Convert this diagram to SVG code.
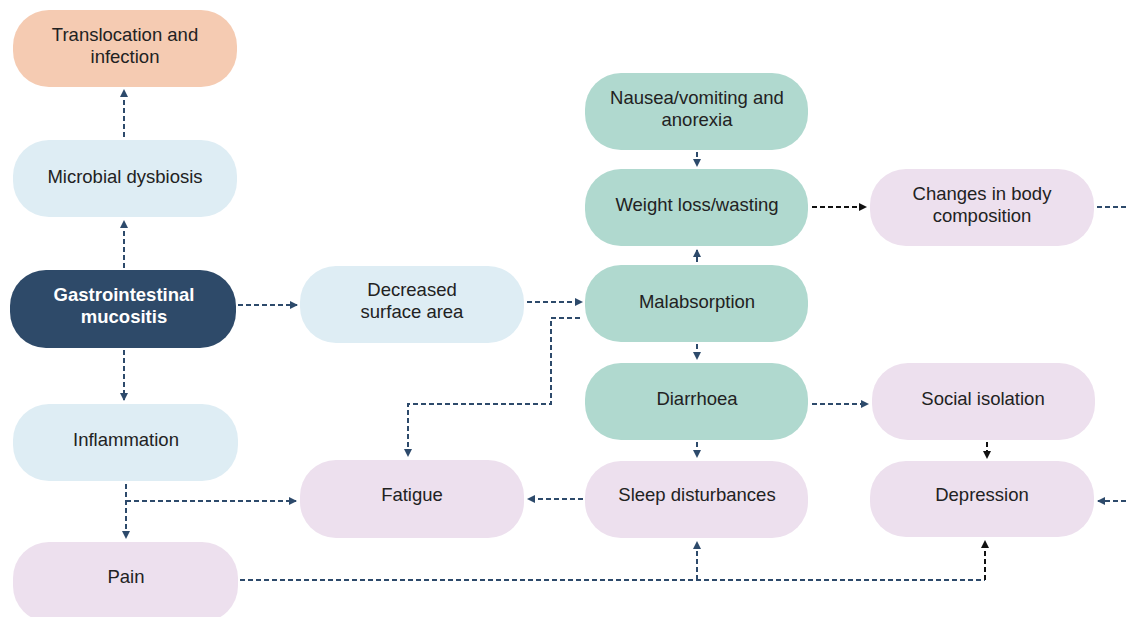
<svg xmlns="http://www.w3.org/2000/svg" width="1126" height="617" viewBox="0 0 1126 617">
<defs>
<marker id="ab" viewBox="0 0 8 8" markerWidth="8" markerHeight="8" refX="7" refY="4" orient="auto" markerUnits="userSpaceOnUse"><path d="M0,0 L8,4 L0,8 z" fill="#2d4a6b"/></marker>
<marker id="ak" viewBox="0 0 8 8" markerWidth="8" markerHeight="8" refX="7" refY="4" orient="auto" markerUnits="userSpaceOnUse"><path d="M0,0 L8,4 L0,8 z" fill="#111"/></marker>
</defs>
<style>
text{font-family:"Liberation Sans",Arial,sans-serif;font-size:18.5px;fill:#222;text-anchor:middle}
.w{fill:#fff;font-weight:bold}
.peach{fill:#f5cbb2}
.blue{fill:#deedf4}
.navy{fill:#2e4a69}
.teal{fill:#b0d9cf}
.pink{fill:#ede0ee}
.c{fill:none;stroke:#2d4a6b;stroke-width:2;stroke-dasharray:5 3}
.k{fill:none;stroke:#111;stroke-width:2;stroke-dasharray:5 3}
</style>
<rect width="1126" height="617" fill="#fff"/>
<g id="connectors">
<path class="c" d="M124 137 V90" marker-end="url(#ab)"/>
<path class="c" d="M124 268 V221" marker-end="url(#ab)"/>
<path class="c" d="M124 350 V400" marker-end="url(#ab)"/>
<path class="c" d="M238 305 H297" marker-end="url(#ab)"/>
<path class="c" d="M527 302 H582" marker-end="url(#ab)"/>
<path class="c" d="M580 318 H551 V404 H408 V456" marker-end="url(#ab)"/>
<path class="c" d="M697 262 V250" marker-end="url(#ab)"/>
<path class="c" d="M697 152 V166" marker-end="url(#ab)"/>
<path class="k" d="M812 207 H866" marker-end="url(#ak)"/>
<path class="c" d="M1097 207 H1126"/>
<path class="c" d="M697 344 V359" marker-end="url(#ab)"/>
<path class="c" d="M812 404 H868" marker-end="url(#ab)"/>
<path class="c" d="M697 442 V457" marker-end="url(#ab)"/>
<path class="k" d="M987 442 V458" marker-end="url(#ak)"/>
<path class="c" d="M1126 501 H1098" marker-end="url(#ab)"/>
<path class="c" d="M583 499 H528" marker-end="url(#ab)"/>
<path class="c" d="M126 484 V538" marker-end="url(#ab)"/>
<path class="c" d="M126 501 H296" marker-end="url(#ab)"/>
<path class="c" d="M240 580 H985"/>
<path class="k" d="M985 580 V541" marker-end="url(#ak)"/>
<path class="c" d="M697 580 V542" marker-end="url(#ab)"/>
</g>
<g id="translocation"><rect class="peach" x="13" y="10" width="224" height="77" rx="36"/><text x="125" y="41">Translocation and</text><text x="125" y="63">infection</text></g>
<g id="microbial"><rect class="blue" x="13" y="140" width="224" height="77" rx="36"/><text x="125" y="183">Microbial dysbiosis</text></g>
<g id="gi"><rect class="navy" x="10" y="270" width="226" height="78" rx="36"/><text class="w" x="124" y="301">Gastrointestinal</text><text class="w" x="124" y="323">mucositis</text></g>
<g id="decreased"><rect class="blue" x="300" y="266" width="224" height="77" rx="36"/><text x="412" y="296">Decreased</text><text x="412" y="318">surface area</text></g>
<g id="inflammation"><rect class="blue" x="13" y="404" width="225" height="77" rx="36"/><text x="126" y="446">Inflammation</text></g>
<g id="pain"><rect class="pink" x="13" y="542" width="225" height="80" rx="36"/><text x="126" y="583">Pain</text></g>
<g id="fatigue"><rect class="pink" x="300" y="460" width="224" height="78" rx="36"/><text x="412" y="501">Fatigue</text></g>
<g id="nausea"><rect class="teal" x="585" y="73" width="223" height="77" rx="36"/><text x="697" y="104">Nausea/vomiting and</text><text x="697" y="126">anorexia</text></g>
<g id="weight"><rect class="teal" x="585" y="169" width="223" height="77" rx="36"/><text x="697" y="211">Weight loss/wasting</text></g>
<g id="malabsorption"><rect class="teal" x="585" y="265" width="223" height="77" rx="36"/><text x="697" y="308">Malabsorption</text></g>
<g id="diarrhoea"><rect class="teal" x="585" y="363" width="223" height="77" rx="36"/><text x="697" y="405">Diarrhoea</text></g>
<g id="sleep"><rect class="pink" x="585" y="461" width="223" height="77" rx="36"/><text x="697" y="501">Sleep disturbances</text></g>
<g id="changes"><rect class="pink" x="870" y="169" width="224" height="77" rx="36"/><text x="982" y="200">Changes in body</text><text x="982" y="222">composition</text></g>
<g id="social"><rect class="pink" x="872" y="363" width="223" height="77" rx="36"/><text x="983" y="405">Social isolation</text></g>
<g id="depression"><rect class="pink" x="870" y="461" width="224" height="76" rx="36"/><text x="982" y="501">Depression</text></g>
</svg>
